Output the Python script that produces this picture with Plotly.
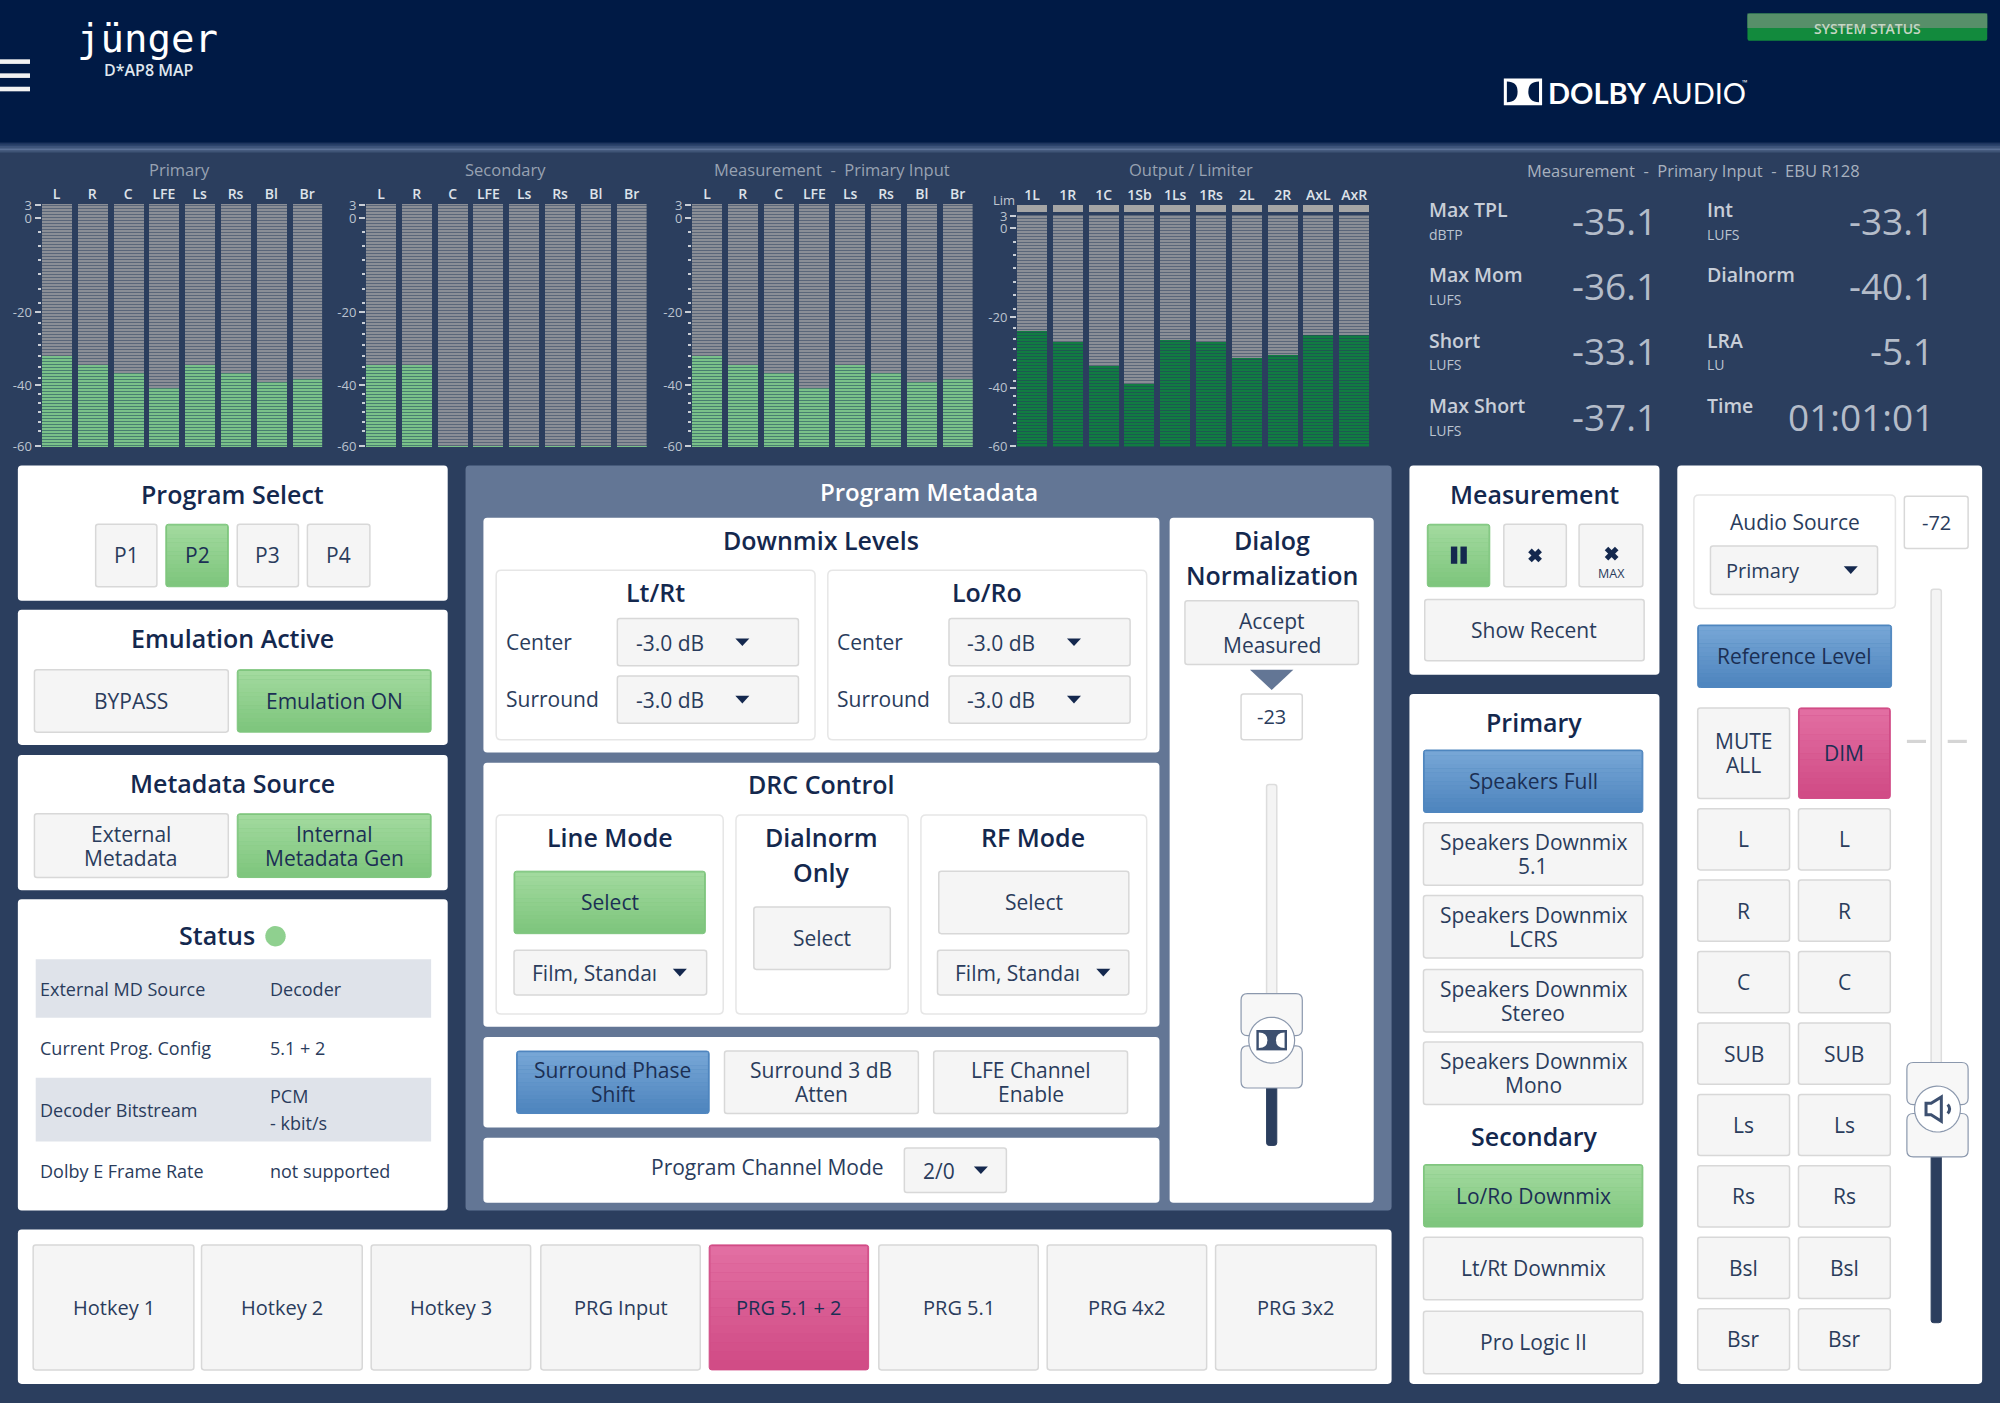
import numpy as np
import plotly.graph_objects as go

# --- values ---
ch_main = ["L", "R", "C", "LFE", "Ls", "Rs", "Bl", "Br"]
ch_out = ["1L", "1R", "1C", "1Sb", "1Ls", "1Rs", "2L", "2R", "AxL", "AxR"]
primary_db = [-32, -34.5, -36.7, -41, -34.5, -36.7, -39.2, -38.4]
secondary_db = [-34.5, -34.5, -60, -60, -60, -60, -60, -60]
measure_db = [-32, -34.5, -36.7, -41, -34.5, -36.7, -39.2, -38.4]
output_db = [-23.9, -27, -33.7, -38.9, -26.4, -27, -31.4, -30.6, -24.9, -24.9]
tick_db = [-60, -40, -20, 0, 3]
minor_db = [-3, -6, -9, -12, -15, -18, -23, -26, -29, -32, -35, -38, -43, -46, -49, -52, -55]
# the meter scale is not linear, these are height above the meter foot in px
scale_main = [1, 62, 135, 229, 242]
scale_out = [1, 59, 129, 218, 230]

loudness_left = [("Max TPL", "dBTP", "-35.1"), ("Max Mom", "LUFS", "-36.1"), ("Short", "LUFS", "-33.1"), ("Max Short", "LUFS", "-37.1")]
loudness_right = [("Int", "LUFS", "-33.1"), ("Dialnorm", "", "-40.1"), ("LRA", "LU", "-5.1"), ("Time", "", "01:01:01")]
status_rows = [("External MD Source", "Decoder"), ("Current Prog. Config", "5.1 + 2"), ("Decoder Bitstream", "PCM\n- kbit/s"), ("Dolby E Frame Rate", "not supported")]
hotkeys = ["Hotkey 1", "Hotkey 2", "Hotkey 3", "PRG Input", "PRG 5.1 + 2", "PRG 5.1", "PRG 4x2", "PRG 3x2"]
speaker_rows = ["L", "R", "C", "SUB", "Ls", "Rs", "Bsl", "Bsr"]
primary_btns = ["Speakers Downmix\n5.1", "Speakers Downmix\nLCRS", "Speakers Downmix\nStereo", "Speakers Downmix\nMono"]
secondary_btns = ["Lt/Rt Downmix", "Pro Logic II"]

# colours
HEAD = "#001a45"; BG = "#2b3e5e"; PANEL = "#637695"; NAVY = "#14284e"; INK = "#2a3c5c"; INK2 = "#1b2f54"
BTN = "#f5f5f5"; EDGE = "#d8d8d8"; GRID = "#e6e6e6"
GREEN = ("#a2da9e", "#7fc67e"); BLUE = ("#77a6d6", "#4f86bf"); PINK = ("#e26ea2", "#d14c86")

S = 2000 / 1568  # coordinates below are in the 1568 wide view of the screenshot
shapes = []; notes = []

def X(x): return x * S / 2000
def Y(y): return 1 - y * S / 1403

def path(d, fill=None, line=None, lw=1):
    s = dict(type="path", path=d, xref="paper", yref="paper", layer="below", line=dict(width=lw if line else 0, color=line or "rgba(0,0,0,0)"))
    if fill: s["fillcolor"] = fill
    shapes.append(s)

def rect(x0, y0, x1, y1, fill=None, line=None, lw=1):
    s = dict(type="rect", x0=X(x0), x1=X(x1), y0=Y(y0), y1=Y(y1), xref="paper", yref="paper", layer="below", line=dict(width=lw if line else 0, color=line or "rgba(0,0,0,0)"))
    if fill: s["fillcolor"] = fill
    shapes.append(s)

def rrect(x0, y0, x1, y1, fill=None, line=None, lw=1, r=3):
    a, b, c, d = X(x0), Y(y0), X(x1), Y(y1)
    rx, ry = r * S / 2000, r * S / 1403
    p = (f"M{a+rx},{b} L{c-rx},{b} Q{c},{b} {c},{b-ry} L{c},{d+ry} Q{c},{d} {c-rx},{d} "
         f"L{a+rx},{d} Q{a},{d} {a},{d+ry} L{a},{b-ry} Q{a},{b} {a+rx},{b} Z")
    path(p, fill, line, lw)

def poly(pts, fill=None, line=None, lw=1, close=True):
    d = "M" + " L".join(f"{X(x)},{Y(y)}" for x, y in pts) + (" Z" if close else "")
    path(d, fill, line, lw)

def text(x, y, s, size=21, color=INK, weight=400, anchor="center", family="Open Sans", gap=19):
    lines = s.split("\n")
    # annotations keep a little padding, take it off so that the anchors land on the text edge
    if anchor == "left": x -= 2
    if anchor == "right": x += 2
    for i, t in enumerate(lines):
        yy = y + (i - (len(lines) - 1) / 2) * gap
        notes.append(dict(x=X(x), y=Y(yy), xref="paper", yref="paper", text=t, showarrow=False, xanchor=anchor, yanchor="middle",
                          font=dict(family=family, size=size, color=color, weight=weight)))

def title(x, y, s): text(x, y - 1, s, size=25, color=NAVY, weight=600, gap=28)

def panel(x0, y0, x1, y1, fill="#ffffff"): rrect(x0, y0, x1, y1, fill, None, r=3)

def gradient(x0, y0, x1, y1, cols, n=14):
    c0 = np.array([int(cols[0][i:i+2], 16) for i in (1, 3, 5)]); c1 = np.array([int(cols[1][i:i+2], 16) for i in (1, 3, 5)])
    ys = np.linspace(y0, y1, n + 1)
    for i in range(n):
        c = c0 + (c1 - c0) * i / (n - 1)
        rect(x0, ys[i], x1, ys[i + 1] + 0.1, "rgb(%d,%d,%d)" % tuple(c))

def button(x0, y0, x1, y1, label="", active=None, size=21):
    if active:
        rrect(x0, y0, x1, y1, active[1], active[1], r=2)
        gradient(x0 + 1, y0 + 1, x1 - 1, y1 - 1, active)
    else:
        rrect(x0, y0, x1, y1, BTN, EDGE, 1.5, r=2)
    if label: text((x0 + x1) / 2, (y0 + y1) / 2, label, size=size, color=INK2 if active else INK)

def caret(cx, cy, w=5.5, h=3, col=NAVY): poly([(cx - w, cy - h), (cx + w, cy - h), (cx, cy + h)], col)

def dropdown(x0, y0, x1, y1, label, tx, cx, size=21):
    rrect(x0, y0, x1, y1, BTN, EDGE, 1.5, r=2)
    text(tx, (y0 + y1) / 2 + 0.5, label, size=size); caret(cx, (y0 + y1) / 2)

def dolby(cx, cy, w, h, frame, inner):
    rect(cx - w, cy - h, cx + w, cy + h, frame)
    m = w * 0.16; a = w * 0.72
    d = ""
    for sgn in (-1, 1):
        o = cx + sgn * (w - m); i = cx + sgn * (w - a)
        d = f"M{X(o)},{Y(cy-h+m)} L{X(o)},{Y(cy+h-m)} Q{X(i)},{Y(cy+h-m)} {X(i)},{Y(cy)} Q{X(i)},{Y(cy-h+m)} {X(o)},{Y(cy-h+m)} Z"
        path(d, inner)

# --- page background and header ---
rect(0, 0, 1568, 1100, BG)
rect(0, 0, 1568, 112, HEAD)
gradient(0, 112, 1568, 118, ("#1d3560", "#5c7196"), n=5)
rect(0, 118, 1568, 119.5, "#3f5476")
for yy in (46.5, 57.5, 68):
    rect(0, yy, 23.5, yy + 3.6, "#f2f2f2")
text(116, 30, "jünger", size=39, color="#ffffff", family="DejaVu Sans Mono")
text(117, 55, "D*AP8 MAP", size=16, color="#dfe6ee", weight=600)
rrect(1370, 10.5, 1558, 32, "#128a3d", None, r=2)
rect(1370, 10.5, 1558, 22, "#578f69")
text(1464, 22.5, "SYSTEM STATUS", size=14, color="#c6d6c4", weight=600)
dolby(1194, 72, 15, 10.5, "#ffffff", HEAD)
text(1214, 72.5, "<b>DOLBY</b> AUDIO", size=29, color="#ffffff", anchor="left", family="Lato")
text(1366, 65, "™", size=7, color="#ffffff", anchor="left")

# --- meter headings and loudness readout ---
for cx, s in [(141, "Primary"), (396, "Secondary"), (652, "Measurement  -  Primary Input"), (934, "Output / Limiter")]:
    text(cx, 133, s, size=16.5, color="#98a2b2")
text(787, 157, "Lim", size=13, color="#c0c7d2")
text(1328, 134, "Measurement  -  Primary Input  -  EBU R128", size=16.5, color="#a8b1bf")
for col, rows, xl, xr in [(0, loudness_left, 1121, 1299), (1, loudness_right, 1339, 1516)]:
    for r, (lab, unit, val) in enumerate(rows):
        y = 164 + r * 51.3
        text(xl, y, lab, size=19.5, color="#c8ced8", weight=600, anchor="left")
        if unit: text(xl, y + 19.5, unit, size=14, color="#bcc4d0", anchor="left")
        text(xr, y + 8.5, val, size=37, color="#b4bcc9", anchor="right")

# --- left column ---
panel(14, 365, 351, 471); title(182, 388, "Program Select")
for (a, b), s, act in zip([(75, 123), (130, 179), (186, 234), (241, 290)], ["P1", "P2", "P3", "P4"], [None, GREEN, None, None]):
    button(a, 411, b, 460, s, act)
panel(14, 478, 351, 584); title(182, 501, "Emulation Active")
button(27, 525, 179, 574, "BYPASS"); button(186, 525, 338, 574, "Emulation ON", GREEN)
panel(14, 592, 351, 698); title(182, 615, "Metadata Source")
button(27, 638, 179, 688, "External\nMetadata"); button(186, 638, 338, 688, "Internal\nMetadata Gen", GREEN)
panel(14, 705, 351, 949); title(170, 734, "Status")
poly([(216 + 8 * np.cos(t), 734 + 8 * np.sin(t)) for t in np.linspace(0, 2 * np.pi, 32)], "#8fd08f")
rect(28, 752, 338, 798, "#dfe3ea"); rect(28, 845, 338, 895, "#dfe3ea")
for (lab, val), yy in zip(status_rows, [775.5, 822, 870, 918]):
    text(32, yy, lab, size=18, anchor="left"); text(212, yy, val, size=18, anchor="left", gap=21)

# --- program metadata ---
panel(365, 365, 1091, 949, PANEL); text(728, 385, "Program Metadata", size=24, color="#ffffff", weight=600)
panel(379, 406, 909, 590); title(644, 424, "Downmix Levels")
for x0, x1, name, ddx in [(389, 639, "Lt/Rt", 484), (649, 899, "Lo/Ro", 744)]:
    rrect(x0, 447, x1, 580, "#ffffff", GRID, 1.5, r=4); title((x0 + x1) / 2, 465, name)
    for yy, lab in [(485, "Center"), (530, "Surround")]:
        text(x0 + 8, yy + 18, lab, size=21, anchor="left")
        dropdown(ddx, yy, ddx + 142, yy + 37, "-3.0 dB", ddx + 41, ddx + 98)
panel(379, 598, 909, 805); title(644, 616, "DRC Control")
rrect(389, 639, 567, 795, "#ffffff", GRID, 1.5, r=4); title(478, 657, "Line Mode")
button(403, 683, 553, 732, "Select", GREEN); dropdown(403, 745, 554, 780, "Film, Standaı", 466, 533)
rrect(577, 639, 712, 795, "#ffffff", GRID, 1.5, r=4); title(644, 671, "Dialnorm\nOnly")
button(591, 711, 698, 760, "Select")
rrect(722, 639, 899, 795, "#ffffff", GRID, 1.5, r=4); title(810, 657, "RF Mode")
button(736, 683, 885, 732, "Select"); dropdown(735, 745, 885, 780, "Film, Standaı", 798, 865)
panel(379, 813, 909, 884)
button(405, 824, 556, 873, "Surround Phase\nShift", BLUE); button(568, 824, 720, 873, "Surround 3 dB\nAtten"); button(732, 824, 884, 873, "LFE Channel\nEnable")
panel(379, 892, 909, 943); text(602, 915, "Program Channel Mode", size=21)
dropdown(709, 900, 789, 935, "2/0", 736, 769)
panel(917, 406, 1077, 943); title(997, 438, "Dialog\nNormalization")
button(929, 471, 1065, 521, "Accept\nMeasured")
poly([(980, 525), (1014, 525), (997, 541)], PANEL)
rrect(973, 544, 1021, 580, "#ffffff", EDGE, 1.5, r=2); text(997, 562, "-23", size=20)
rrect(993, 615, 1001, 790, "#f4f4f4", "#dddddd", 1.5, r=2); rrect(993, 850, 1001, 898, BG, BG, r=2)
rrect(973, 779, 1021, 812, "#f7f7f7", "#8b98ad", 1.2, r=5); rrect(973, 820, 1021, 853, "#f7f7f7", "#8b98ad", 1.2, r=5)
poly([(997 + 18 * np.cos(t), 815.5 + 18 * np.sin(t)) for t in np.linspace(0, 2 * np.pi, 40)], "#ffffff", "#8b98ad", 1.2)
dolby(997, 815.5, 12, 8, "#3d5070", "#ffffff")

# --- measurement and monitor selection ---
panel(1105, 365, 1301, 529); title(1203, 388, "Measurement")
button(1119, 411, 1168, 460, "", GREEN); button(1179, 411, 1228, 460); button(1238, 411, 1288, 460)
rect(1137.5, 428.5, 1142.5, 442, NAVY); rect(1145, 428.5, 1150, 442, NAVY)
for cx, cy in [(1203.5, 435.5), (1263.5, 434)]:
    poly([(cx - 4, cy - 4), (cx + 4, cy + 4)], None, NAVY, 5, close=False); poly([(cx - 4, cy + 4), (cx + 4, cy - 4)], None, NAVY, 5, close=False)
text(1263.5, 450, "MAX", size=12.5)
button(1117, 470, 1289, 518, "Show Recent")
panel(1105, 544, 1301, 1085); title(1203, 567, "Primary")
button(1116, 588, 1288, 637, "Speakers Full", BLUE)
for s, yy in zip(primary_btns, [645, 702, 760, 817]):
    button(1116, yy, 1288, yy + 49, s)
title(1203, 892, "Secondary")
button(1116, 913, 1288, 962, "Lo/Ro Downmix", GREEN)
for s, yy in zip(secondary_btns, [970, 1028]):
    button(1116, yy, 1288, yy + 49, s)

panel(1315, 365, 1554, 1085)
rrect(1328, 388, 1486, 477, "#ffffff", GRID, 1.5, r=4); text(1407, 409, "Audio Source", size=21)
dropdown(1341, 428, 1472, 466, "Primary", 1382, 1451, size=20)
rrect(1493, 389, 1543, 430, "#ffffff", EDGE, 1.5, r=2); text(1518, 410, "-72", size=20)
button(1331, 490, 1483, 539, "Reference Level", BLUE)
button(1331, 555, 1403, 626, "MUTE\nALL"); button(1410, 555, 1482, 626, "DIM", PINK)
for i, s in enumerate(speaker_rows):
    yy = 634 + i * 56
    button(1331, yy, 1403, yy + 48, s); button(1410, yy, 1482, yy + 48, s)
rect(1495, 580, 1510, 582.5, "#d5d5d5"); rect(1527, 580, 1542, 582.5, "#d5d5d5")
rrect(1514, 462, 1522, 840, "#f4f4f4", "#dddddd", 1.5, r=2); rrect(1514, 900, 1522, 1037, BG, BG, r=2)
rrect(1495, 833, 1543, 866, "#f7f7f7", "#8b98ad", 1.2, r=5); rrect(1495, 873, 1543, 907, "#f7f7f7", "#8b98ad", 1.2, r=5)
poly([(1519 + 18 * np.cos(t), 869.5 + 18 * np.sin(t)) for t in np.linspace(0, 2 * np.pi, 40)], "#ffffff", "#8b98ad", 1.2)
poly([(1510, 865), (1514, 865), (1522, 860), (1522, 879), (1514, 874), (1510, 874)], "#ffffff", "#3d5070", 3)
path(f"M{X(1527)},{Y(866)} Q{X(1530)},{Y(869.5)} {X(1527)},{Y(873)}", None, "#3d5070", 3)

# --- hotkeys ---
panel(14, 964, 1091, 1085)
for (a, b), s in zip([(26, 152), (158, 284), (291, 416), (424, 549), (556, 681), (689, 814), (821, 946), (953, 1079)], hotkeys):
    button(a, 976, b, 1074, s, PINK if s == "PRG 5.1 + 2" else None, size=20)

# --- meters, real bars on their own small axes ---
fig = go.Figure()
GREY = ("#8f9299", "#5a6679")
LIGHT = ("#7fc88c", "#487f70")
DARK = ("#0f8040", "#1c5a50")
layout_axes = {}

def meter(n, names, levels, db2pos, x0, pitch, top, green, lim=False):
    sx = "" if n == 1 else str(n)
    xs = list(range(len(names)))
    pos = np.interp(levels, tick_db, db2pos)
    bars_top = db2pos[-1] + 1
    w = 30 / pitch
    def stripes(col):
        return dict(shape="-", size=3, solidity=0.4, fgcolor=col[1], bgcolor=col[0], fgopacity=1)
    fig.add_trace(go.Bar(x=xs, y=[bars_top] * len(xs), width=w, marker=dict(color=GREY[0], line_width=0, pattern=stripes(GREY)),
                         xaxis="x" + sx, yaxis="y" + sx, showlegend=False, hoverinfo="skip"))
    fig.add_trace(go.Bar(x=xs, y=pos, width=w, marker=dict(color=green[0], line_width=0, pattern=stripes(green)),
                         xaxis="x" + sx, yaxis="y" + sx, showlegend=False, hoverinfo="skip"))
    rng_top = bars_top + (10 if lim else 0)
    if lim:
        fig.add_trace(go.Bar(x=xs, y=[7] * len(xs), base=[bars_top + 3] * len(xs), width=w, marker=dict(color="#a5a5a5", line_width=0),
                             xaxis="x" + sx, yaxis="y" + sx, showlegend=False, hoverinfo="skip"))
    x1 = x0 + pitch * len(names) - (pitch - 30)
    layout_axes["xaxis" + sx] = dict(domain=[x0 / 2000, x1 / 2000], range=[-w / 2, len(names) - 1 + w / 2], anchor="y" + sx, side="top",
                                     tickmode="array", tickvals=xs, ticktext=names, ticks="", showline=False, showgrid=False, zeroline=False,
                                     tickfont=dict(family="Open Sans", size=14, color="#dde2e9", weight=600), ticklabelstandoff=1, fixedrange=True)
    layout_axes["yaxis" + sx] = dict(domain=[1 - 447 / 1403, 1 - top / 1403], range=[0, rng_top], anchor="x" + sx, side="left",
                                     tickmode="array", tickvals=db2pos, ticktext=[str(t) for t in tick_db], ticks="outside", ticklen=6, tickwidth=1.5,
                                     tickcolor="#c9ced6", showline=False, showgrid=False, zeroline=False,
                                     tickfont=dict(family="Open Sans", size=13, color="#bcc4d0"), fixedrange=True,
                                     minor=dict(tickmode="array", tickvals=np.interp(minor_db, tick_db, db2pos).tolist(), ticks="outside", ticklen=3, tickwidth=1.5, tickcolor="#c9ced6", showgrid=False))

meter(1, ch_main, primary_db, scale_main, 41.5, 35.8, 204, LIGHT)
meter(2, ch_main, secondary_db, scale_main, 366, 35.8, 204, LIGHT)
meter(3, ch_main, measure_db, scale_main, 692, 35.8, 204, LIGHT)
meter(4, ch_out, output_db, scale_out, 1017, 35.8, 205, DARK, lim=True)

fig.update_layout(width=2000, height=1403, margin=dict(l=0, r=0, t=0, b=0, pad=0, autoexpand=False), autosize=False, paper_bgcolor=BG, plot_bgcolor="rgba(0,0,0,0)",
                  barmode="overlay", bargap=0, showlegend=False, hovermode=False, shapes=shapes, annotations=notes, **layout_axes)
fig.write_html("out.html", config={"displayModeBar": False}, post_script="document.body.style.margin='0';document.documentElement.style.overflow='hidden';")
